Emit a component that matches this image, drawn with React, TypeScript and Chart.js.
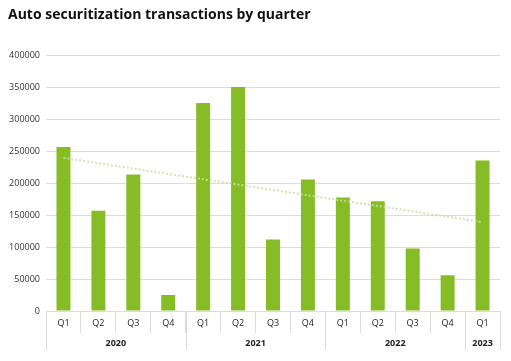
import React, { useEffect, useRef } from "react";
import { Chart, registerables } from "chart.js";

Chart.register(...registerables);

const quarters = ["Q1", "Q2", "Q3", "Q4", "Q1", "Q2", "Q3", "Q4", "Q1", "Q2", "Q3", "Q4", "Q1"];
const years = ["2020", "2021", "2022", "2023"];
const yearSpans = [4, 4, 4, 1];
const transactions = [257000, 157000, 214000, 25000, 326000, 351000, 112000, 206000, 178000, 172000, 98000, 56000, 236000];
const trend = [240000, null, null, null, null, null, null, null, null, null, null, null, 139500];
const yTicksMax = 400000;
const yStep = 50000;

const FONT = "'Open Sans', 'Noto Sans', sans-serif";
const GRID = "#dcdcdc";

const yearPlugin = {
  id: "yearRow",
  afterDraw(chart: any) {
    const x = chart.scales.x;
    const ctx = chart.ctx;
    const n = quarters.length;
    const w = (x.right - x.left) / n;
    const top = x.top;
    ctx.save();
    ctx.strokeStyle = GRID;
    ctx.lineWidth = 1;
    let start = 0;
    const bounds: number[] = [0];
    yearSpans.forEach((s) => {
      start += s;
      bounds.push(start);
    });
    bounds.forEach((b) => {
      const px = Math.round(x.left + b * w) + 0.5;
      ctx.beginPath();
      ctx.moveTo(px, top);
      ctx.lineTo(px, top + 39);
      ctx.stroke();
    });
    ctx.fillStyle = "#222";
    ctx.font = `bold 9px ${FONT}`;
    ctx.textAlign = "center";
    ctx.textBaseline = "middle";
    years.forEach((yr, i) => {
      const cx = x.left + ((bounds[i] + bounds[i + 1]) / 2) * w;
      ctx.fillText(yr, cx, top + 32);
    });
    ctx.restore();
  },
};

export default function App() {
  const ref = useRef<HTMLCanvasElement>(null);
  useEffect(() => {
    if (!ref.current) return;
    const chart = new Chart(ref.current, {
      type: "bar",
      data: {
        labels: quarters,
        datasets: [
          {
            type: "line",
            data: trend,
            spanGaps: true,
            borderColor: "rgba(200, 225, 165, 0.85)",
            borderWidth: 2,
            borderDash: [2, 2],
            pointRadius: 0,
            fill: false,
            order: 0,
          } as any,
          {
            type: "bar",
            data: transactions,
            backgroundColor: "#86bc25",
            barPercentage: 0.4,
            categoryPercentage: 1.0,
            order: 1,
          },
        ],
      },
      plugins: [yearPlugin],
      options: {
        responsive: false,
        animation: false,
        layout: { padding: { left: 8, right: 11, top: 0, bottom: 0 } },
        plugins: {
          legend: { display: false },
          tooltip: { enabled: false },
          title: {
            display: true,
            text: "Auto securitization transactions by quarter",
            align: "start",
            color: "#111",
            font: { family: FONT, size: 14, weight: "bold" },
            padding: { top: 7, bottom: 32 },
          },
        },
        scales: {
          x: {
            grid: {
              offset: true,
              drawOnChartArea: false,
              drawTicks: true,
              tickLength: 22,
              color: GRID,
            },
            border: { display: true, color: GRID },
            ticks: {
              color: "#222",
              font: { family: FONT, size: 9 },
              padding: -15,
              maxRotation: 0,
              autoSkip: false,
            },
            afterFit: (s: any) => {
              s.height = 50;
            },
          },
          y: {
            min: 0,
            max: yTicksMax,
            ticks: {
              stepSize: yStep,
              color: "#333",
              font: { family: FONT, size: 9 },
              padding: 6,
              callback: (v: any) => String(v),
            },
            grid: { color: GRID, drawTicks: false, lineWidth: 1 },
            border: { display: false },
            afterFit: (s: any) => {
              s.width = 38;
            },
          },
        },
      },
    });
    return () => chart.destroy();
  }, []);
  return (
    <div style={{ position: "fixed", left: 0, top: 0, width: 511, height: 361, background: "#fff" }}>
      <canvas ref={ref} width={511} height={361} />
    </div>
  );
}
